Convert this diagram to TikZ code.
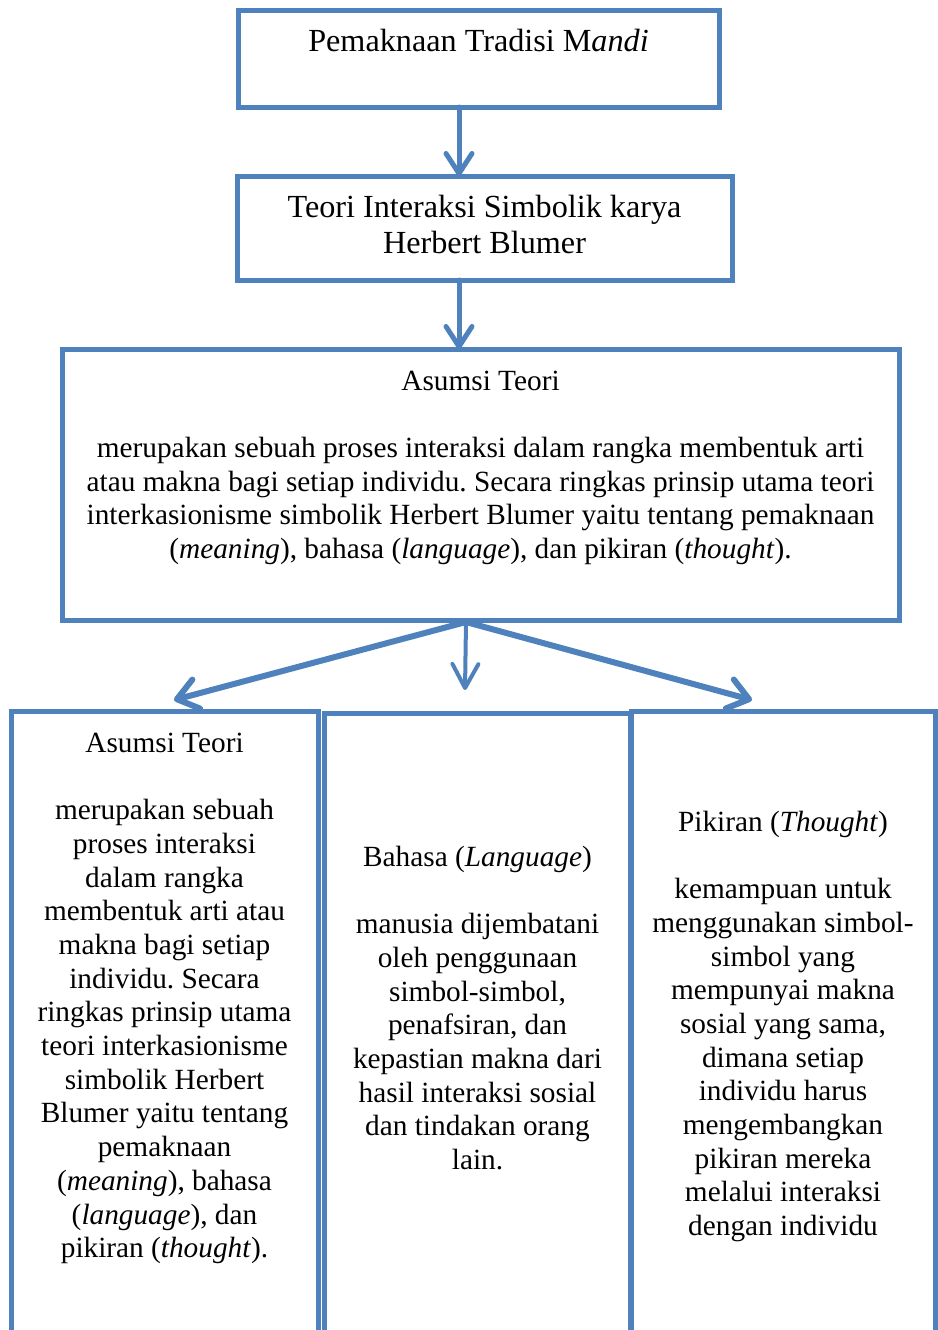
\documentclass[tikz,border=0pt]{standalone}
\usepackage{fontspec}
\setmainfont{Liberation Serif}
\usetikzlibrary{arrows.meta}
\definecolor{ofblue}{HTML}{4F81BD}
\frenchspacing
\begin{document}
\begin{tikzpicture}[x=1pt,y=-1pt,
  box/.style={draw=ofblue,line width=5pt,rectangle,inner sep=0pt,outer sep=0pt},
  txt/.style={anchor=north,align=center,inner sep=0pt,font=\fontsize{29.3}{33.7}\selectfont},
  bigtxt/.style={anchor=north,align=center,inner sep=0pt,font=\fontsize{32.2}{36.5}\selectfont},
  arr/.style={draw=ofblue,line width=5pt,line cap=round,-{Straight Barb[length=20pt,width=26pt,line cap=round,line join=round]}},
  diagarr/.style={draw=ofblue,line width=6pt,line cap=round,-{Straight Barb[length=20pt,width=30pt,line cap=round,line join=round]}},
  thinarr/.style={draw=ofblue,line width=4pt,-{Straight Barb[length=24pt,width=26pt,line cap=round,line join=round]}}]
\useasboundingbox (0,0) rectangle (937,1330);
% boxes
\node[box,minimum width=481pt,minimum height=96pt] (b1) at (478.5,59) {};
\node[box,minimum width=495pt,minimum height=104pt] (b2) at (484.5,228) {};
\node[box,minimum width=837pt,minimum height=271pt] (b3) at (480.5,484.5) {};
\node[box,minimum width=307pt,minimum height=640pt] (b4) at (164.5,1031) {};
\node[box,minimum width=306pt,minimum height=640pt] (b5) at (477,1033) {};
\node[box,minimum width=304pt,minimum height=640pt] (b6) at (783,1031) {};
% texts
\node[bigtxt] (t1) at (478.5,26.2) {\strut Pemaknaan Tradisi M\textit{andi}};
\node[bigtxt] (t2) at (484.5,191.4) {\strut Teori Interaksi Simbolik karya\\Herbert Blumer};
\node[txt] (t3) at (480.5,366.4) {\strut Asumsi Teori\\[33.7pt]
merupakan sebuah proses interaksi dalam rangka membentuk arti\\
atau makna bagi setiap individu. Secara ringkas prinsip utama teori\\
interkasionisme simbolik Herbert Blumer yaitu tentang pemaknaan\\
(\textit{meaning}), bahasa (\textit{language}), dan pikiran (\textit{thought}).};
\node[txt] (t4) at (164.5,728.4) {\strut Asumsi Teori\\[33.7pt]
merupakan sebuah\\proses interaksi\\dalam rangka\\membentuk arti atau\\makna bagi setiap\\individu. Secara\\ringkas prinsip utama\\teori interkasionisme\\simbolik Herbert\\Blumer yaitu tentang\\pemaknaan\\(\textit{meaning}), bahasa\\(\textit{language}), dan\\pikiran (\textit{thought}).};
\node[txt] (t5) at (477.5,842.4) {\strut Bahasa (\textit{Language})\\[33.7pt]
manusia dijembatani\\oleh penggunaan\\simbol-simbol,\\penafsiran, dan\\kepastian makna dari\\hasil interaksi sosial\\dan tindakan orang\\lain.};
\node[txt] (t6) at (783,807.4) {\strut Pikiran (\textit{Thought})\\[33.7pt]
kemampuan untuk\\menggunakan simbol-\\simbol yang\\mempunyai makna\\sosial yang sama,\\dimana setiap\\individu harus\\mengembangkan\\pikiran mereka\\melalui interaksi\\dengan individu};
% connector points
\coordinate (col) at (459,0);
\coordinate (fork) at (466,622);
\coordinate (tipL) at (174,700);
\coordinate (tipM) at (465,690);
\coordinate (tipR) at (752,700);
% arrows
\draw[arr] (b1.south -| col) -- (b2.north -| col);
\draw[arr] (b2.south -| col) -- (b3.north -| col);
\draw[diagarr] (fork) -- (tipL);
\draw[diagarr] (fork) -- (tipR);
\draw[thinarr] (fork) -- (tipM);
\end{tikzpicture}
\end{document}
